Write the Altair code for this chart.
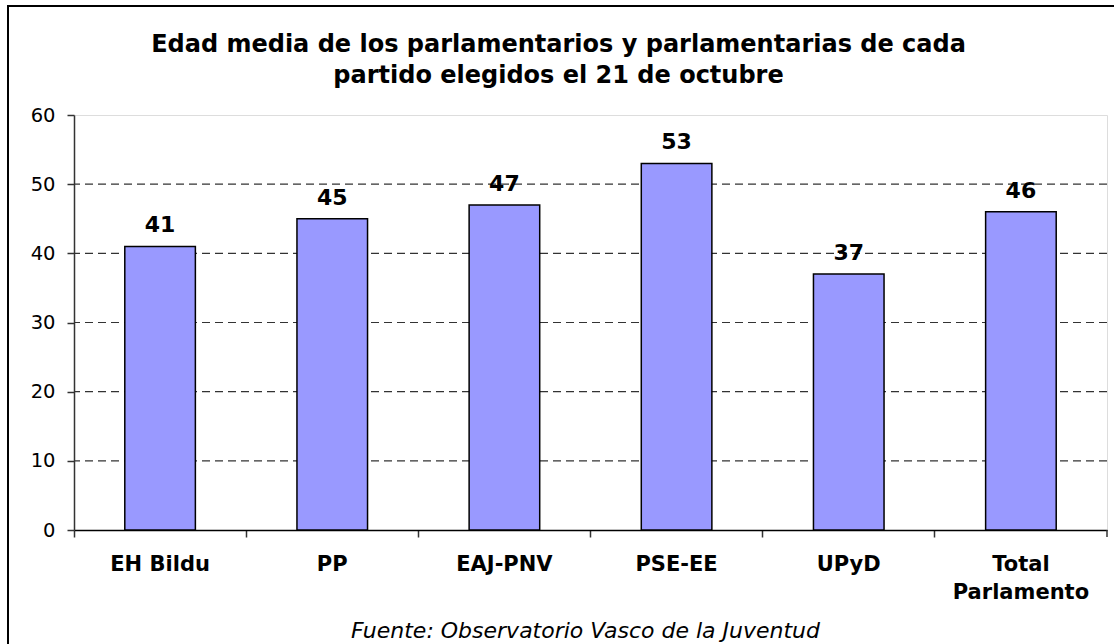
import altair as alt
import pandas as pd

partidos = ["EH Bildu", "PP", "EAJ-PNV", "PSE-EE", "UPyD", "Total|Parlamento"]
edades = [41, 45, 47, 53, 37, 46]
y_ticks = [0, 10, 20, 30, 40, 50, 60]
grid_vals = [10, 20, 30, 40, 50]
title_lines = ["Edad media de los parlamentarios y parlamentarias de cada",
               "partido elegidos el 21 de octubre"]
fuente = "Fuente: Observatorio Vasco de la Juventud"

FONT = "DejaVu Sans"
W, H = 1033, 415

df = pd.DataFrame({"partido": partidos, "edad": edades})
gdf = pd.DataFrame({"v": grid_vals})
one = pd.DataFrame({"a": [0]})

x_enc = alt.X(
    "partido:N", sort=partidos,
    scale=alt.Scale(paddingInner=0, paddingOuter=0),
    axis=alt.Axis(
        title=fuente, titleFont=FONT, titleFontSize=22, titleFontStyle="italic",
        titleFontWeight="normal", titleColor="#000000", titleX=511, titleY=107,
        titleBaseline="alphabetic", titleAnchor="middle", titleAlign="center",
        labelExpr="split(datum.label, '|')", labelFont=FONT, labelFontSize=21,
        labelFontWeight="bold", labelColor="#000000", labelPadding=16, labelLineHeight=28,
        labelAngle=0, tickSize=7, tickColor="#333333", tickWidth=1.5,
        bandPosition=0, domainColor="#000000", domainWidth=1.5, grid=False,
    ),
)
y_scale = alt.Scale(domain=[0, 60], nice=False, zero=True)
y_enc = alt.Y(
    "edad:Q", scale=y_scale,
    axis=alt.Axis(
        title=None, values=y_ticks, labelFont=FONT, labelFontSize=19.5,
        labelColor="#000000", labelPadding=12, tickSize=7, tickColor="#333333",
        tickWidth=1.5, domainColor="#333333", domainWidth=1.5, grid=False,
    ),
)

grid = alt.Chart(gdf).mark_rule(color="#333333", strokeDash=[8, 5], strokeWidth=1.2).encode(
    y=alt.Y("v:Q", scale=y_scale)
)

bars = alt.Chart(df).mark_bar(
    width={"band": 0.41}, color="#9999FF", stroke="#000000", strokeWidth=1.5
).encode(x=x_enc, y=y_enc)

labels = alt.Chart(df).mark_text(
    font=FONT, fontSize=22, fontWeight="bold", color="#000000",
    baseline="alphabetic", dy=-14
).encode(x=alt.X("partido:N", sort=partidos), y=alt.Y("edad:Q", scale=y_scale), text="edad:Q")

end_tick = alt.Chart(one).mark_rule(color="#333333", strokeWidth=1.5).encode(
    x=alt.value(W), y=alt.value(H), y2=alt.value(H + 7)
)

frame = alt.Chart(one).mark_rect(fill=None, stroke="#000000", strokeWidth=2).encode(
    x=alt.value(-66), x2=alt.value(1060), y=alt.value(-109), y2=alt.value(560)
)

chart = alt.layer(frame, grid, bars, labels, end_tick).properties(
    width=W, height=H,
    title=alt.TitleParams(
        text=title_lines, font=FONT, fontSize=24, fontWeight="bold", color="#000000",
        anchor="middle", dx=-32, offset=-102, lineHeight=31, baseline="alphabetic",
    ),
    autosize=alt.AutoSizeParams(type="none"),
    padding={"left": 74, "top": 115, "right": 7, "bottom": 114},
).configure_view(
    fill="#CCCCFF", stroke="#808080", strokeWidth=2
).configure(background="#FFFFFF")

chart.save("out.html", embed_options={"renderer": "svg", "actions": False})
